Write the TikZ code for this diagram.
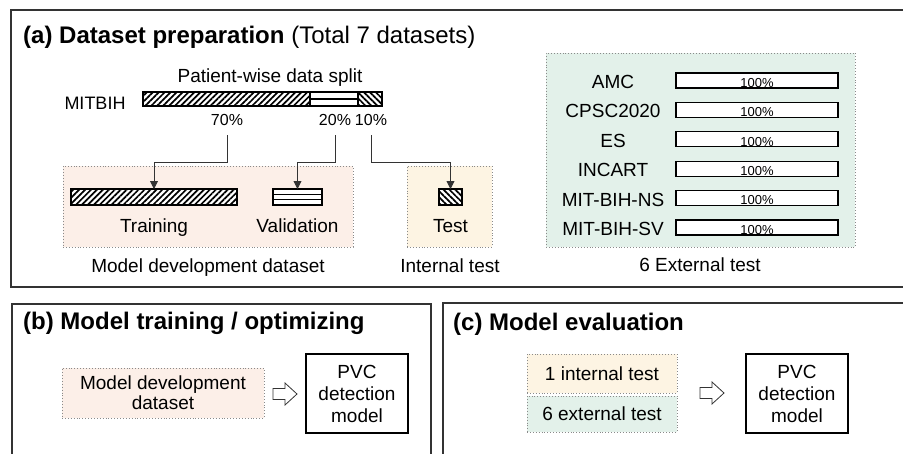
\documentclass[tikz,border=0pt]{standalone}
\usepackage{fontspec}
\setmainfont{Liberation Sans}
\usetikzlibrary{arrows.meta,patterns.meta}
\definecolor{framec}{HTML}{333333}
\definecolor{salmon}{HTML}{FCEFE8}
\definecolor{cream}{HTML}{FDF4E3}
\definecolor{mint}{HTML}{E3F1EA}
\definecolor{dotgray}{HTML}{8A8A8A}
\tikzset{
  panel/.style={draw=framec,line width=1.4pt},
  region/.style={draw=dotgray,dotted,line width=0.9pt,inner sep=0,outer sep=0},
  title/.style={anchor=base west,inner sep=0,font=\fontsize{24}{28}\selectfont},
  txt/.style={inner sep=0,anchor=base,font=\fontsize{19}{22}\selectfont},
  pct/.style={inner sep=0,anchor=base,font=\fontsize{16}{19}\selectfont},
  small/.style={inner sep=0,anchor=base,font=\fontsize{13}{15}\selectfont},
  bar/.style={draw=black,line width=1.2pt,inner sep=0,outer sep=0,minimum height=16},
  hatchne/.style={preaction={fill=white},pattern={Lines[angle=45,distance=4.2pt,line width=1.7pt]}},
  hatchnw/.style={preaction={fill=white},pattern={Lines[angle=-45,distance=4.2pt,line width=1.7pt]}},
  conn/.style={draw=framec,line width=0.9pt,-{Triangle[width=8pt,length=8pt]}},
  hollowpoly/.style={draw=framec,fill=white,line width=0.8pt,line join=miter},
  pvcbox/.style={draw=black,line width=1.3pt,fill=white,minimum width=102,minimum height=79,inner sep=0,align=center,font=\fontsize{19}{22}\selectfont},
}
\begin{document}
\begin{tikzpicture}[x=1pt,y=-1pt]
\useasboundingbox (0,0) rectangle (903,453);
\clip (0,0) rectangle (903,453);
% panels
\draw[panel] (11,10) rectangle (920,287);
\draw[panel] (12,304) rectangle (431,470);
\draw[panel] (443,303) rectangle (920,470);
% titles
\node[title] (ta) at (23,43) {\textbf{(a) Dataset preparation} (Total 7 datasets)};
\node[title] (tb) at (23,329) {\textbf{(b) Model training / optimizing}};
\node[title] (tc) at (453,330) {\textbf{(c) Model evaluation}};
% regions in (a)
\node[region,fill=salmon,minimum width=290,minimum height=81] (dev) at (208,206.5) {};
\node[region,fill=cream,minimum width=85,minimum height=81] (intreg) at (449.5,206.5) {};
\node[region,fill=mint,minimum width=309,minimum height=194] (extreg) at (700.5,150) {};
% MITBIH split
\node[txt] (split) at (270,82) {Patient-wise data split};
\node[txt,font=\fontsize{18}{21}\selectfont] (mit) at (95,109) {MITBIH};
\node[bar,hatchne,minimum width=167,minimum height=14] (m70) at (226.5,99) {};
\node[bar,fill=white,minimum width=48,minimum height=14] (m20) at (334,99) {};
\node[bar,hatchnw,minimum width=24,minimum height=14] (m10) at (370,99) {};
\draw[line width=1.2pt] (m20.west) -- (m20.east);
\node[pct] (p70) at (227,125) {70\%};
\node[pct] (p20) at (335,125) {20\%};
\node[pct] (p10) at (371,125) {10\%};
% target bars
\node[bar,hatchne,minimum width=166] (train) at (154,197) {};
\node[bar,fill=white,minimum width=49] (val) at (297.5,197) {};
\draw[line width=1.1pt] ([yshift=-5.3pt]val.north west) -- ([yshift=-5.3pt]val.north east);
\draw[line width=1.1pt] ([yshift=5.3pt]val.south west) -- ([yshift=5.3pt]val.south east);
\node[bar,hatchnw,minimum width=23] (test) at (450.5,197) {};
% connectors
\draw[conn] ([yshift=-10pt]p70.south) -- ++(0,27) -| (train.north);
\draw[conn] ([yshift=-10pt]p20.south) -- ++(0,27) -| (val.north);
\draw[conn] ([yshift=-10pt]p10.south) -- ++(0,27) -| (test.north);
% labels
\node[txt] (ltrain) at (154,232) {Training};
\node[txt] (lval) at (297.5,232) {Validation};
\node[txt] (ltest) at (450.5,232) {Test};
\node[txt] (ldev) at (208,272) {Model development dataset};
\node[txt] (lint) at (450,272) {Internal test};
\node[txt] (lext) at (700,271) {6 External test};
% external datasets
\foreach \nm/\lab [count=\i from 0] in {amc/AMC,cpsc/CPSC2020,es/ES,inc/INCART,ns/MIT-BIH-NS,sv/MIT-BIH-SV}{
  \pgfmathsetmacro{\rowtop}{73+29.4*\i}
  \node[txt] (n\nm) at (613,\rowtop+15.5) {\lab};
  \node[bar,fill=white,minimum width=162,minimum height=15] (b\nm) at (757,\rowtop+7.5) {};
  \node[small] (v\nm) at (757,\rowtop+14.2) {100\%};
}
% panel (b)
\node[region,fill=salmon,minimum width=202,minimum height=50,align=center,font=\fontsize{19}{20}\selectfont] (devb) at (163,393) {Model development\\dataset};
\coordinate (arb) at (273,394);
\draw[hollowpoly] (arb) ++(0,-5.5) -- ++(12,0) -- ++(0,-5.5) -- ++(12,11) -- ++(-12,11) -- ++(0,-5.5) -- ++(-12,0) -- cycle;
\node[pvcbox] (pvcb) at (357,393.5) {PVC\\detection\\model};
% panel (c)
\node[region,fill=cream,minimum width=150,minimum height=39,font=\fontsize{19}{22}\selectfont] (intc) at (602,373.5) {1 internal test};
\node[region,fill=mint,minimum width=150,minimum height=36,font=\fontsize{19}{22}\selectfont] (extc) at (602,414) {6 external test};
\coordinate (arc) at (700,393);
\draw[hollowpoly] (arc) ++(0,-5.5) -- ++(12,0) -- ++(0,-5.5) -- ++(12,11) -- ++(-12,11) -- ++(0,-5.5) -- ++(-12,0) -- cycle;
\node[pvcbox] (pvcc) at (797,393.5) {PVC\\detection\\model};
\end{tikzpicture}
\end{document}
